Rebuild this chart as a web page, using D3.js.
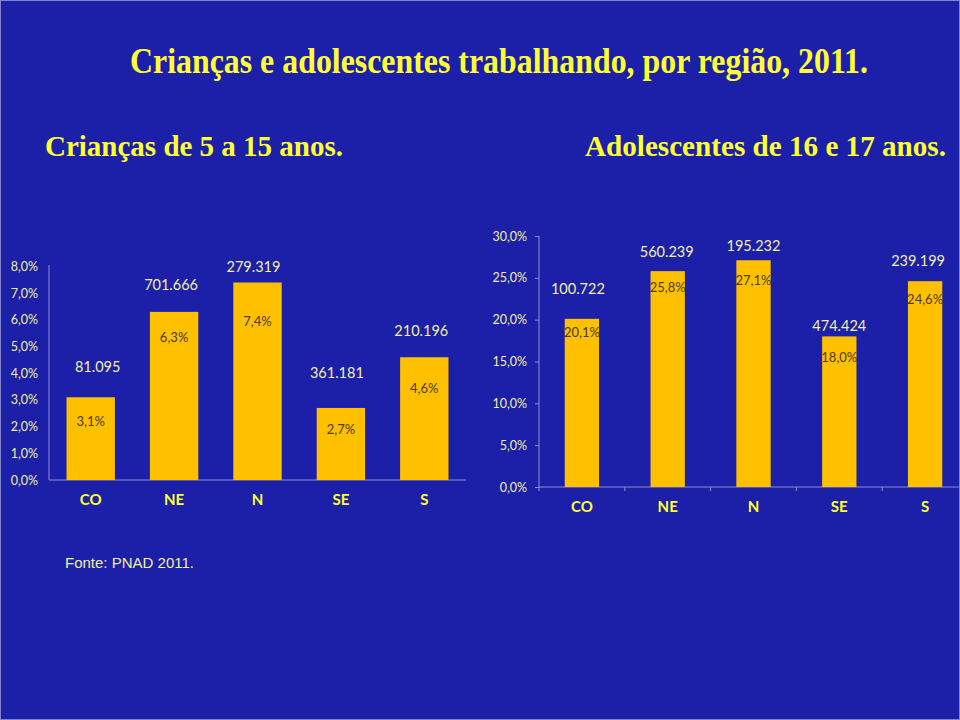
<!DOCTYPE html>
<html><head><meta charset="utf-8">
<script src="https://cdn.jsdelivr.net/npm/d3@7"></script>
<style>html,body{margin:0;padding:0;background:#1c1fa8;}svg{display:block;}</style>
</head><body>
<script>
// ---- data ----
const regions = ["CO", "NE", "N", "SE", "S"];
const childPct = [3.1, 6.3, 7.4, 2.7, 4.6];
const childCount = ["81.095", "701.666", "279.319", "361.181", "210.196"];
const teenPct = [20.1, 25.8, 27.1, 18.0, 24.6];
const teenCount = ["100.722", "560.239", "195.232", "474.424", "239.199"];
const childTicks = [0, 1, 2, 3, 4, 5, 6, 7, 8];
const teenTicks = [0, 5, 10, 15, 20, 25, 30];

// ---- layout (label nudges, px) ----
const childCountDy = [30, 27, 16, 35, 26], childCountDx = [7, -3, -4, -4, -3];
const childPctDy = [24, 26, 39, 22, 31];
const teenCountDy = [30, 19, 14, 10, 20], teenCountDx = [-4, -1, 0, 0, -7];
const teenPctDy = [14, 16, 20, 21, 18];

const W = 960, H = 720;
const BG = "#1c1fa8", BAR = "#ffc000", TXT = "#ffff33", LIGHT = "#f0f0a0", AXIS = "#8c8fd0";
const fmt = v => v.toFixed(1).replace(".", ",") + "%";

const svg = d3.select("body").append("svg").attr("width", W).attr("height", H);
svg.append("rect").attr("width", W).attr("height", H).attr("fill", BG);
svg.append("rect").attr("x", 0.5).attr("y", 0.5).attr("width", W - 1).attr("height", H - 1)
  .attr("fill", "none").attr("stroke", "#7f84cc").attr("stroke-width", 1);

function fitText(sel, x0, x1) {
  sel.attr("textLength", x1 - x0).attr("lengthAdjust", "spacingAndGlyphs").attr("x", x0);
}

const title = svg.append("text").attr("y", 73).attr("fill", TXT)
  .attr("font-family", "Liberation Serif, Times New Roman, serif").attr("font-weight", "bold")
  .attr("font-size", 35).text("Crianças e adolescentes trabalhando, por região, 2011.");
fitText(title, 130, 868);
const sub1 = svg.append("text").attr("y", 156).attr("fill", TXT)
  .attr("font-family", "Liberation Serif, Times New Roman, serif").attr("font-weight", "bold")
  .attr("font-size", 29).text("Crianças de 5 a 15 anos.");
fitText(sub1, 45, 343);
const sub2 = svg.append("text").attr("y", 156).attr("fill", TXT)
  .attr("font-family", "Liberation Serif, Times New Roman, serif").attr("font-weight", "bold")
  .attr("font-size", 29).text("Adolescentes de 16 e 17 anos.");
fitText(sub2, 585, 946);

svg.append("text").attr("x", 65).attr("y", 568).attr("fill", LIGHT)
  .attr("font-family", "Liberation Sans, Arial, sans-serif").attr("font-size", 15)
  .text("Fonte: PNAD 2011.");

function chart(o) {
  const g = svg.append("g");
  const x = d3.scaleBand().domain(regions).range([o.x0, o.x1]).paddingInner(o.pad).paddingOuter(o.pad / 2);
  const y = d3.scaleLinear().domain([0, o.max]).range([o.y0, o.y1]);

  // y axis
  const ya = d3.axisLeft(y).tickValues(o.ticks).tickFormat(fmt).tickSize(o.tick).tickPadding(o.tickPad);
  const gy = g.append("g").attr("transform", `translate(${o.x0},0)`).call(ya);
  gy.select(".domain").attr("stroke", AXIS).attr("d", `M0,${o.y0}V${o.yTop}`);
  gy.selectAll(".tick line").attr("stroke", AXIS);
  gy.selectAll(".tick text").attr("fill", LIGHT).attr("font-family", "Lato, Open Sans, sans-serif")
    .attr("font-size", 12.5);

  // x axis line + boundary ticks
  g.append("line").attr("x1", o.x0).attr("x2", o.x1).attr("y1", o.y0).attr("y2", o.y0).attr("stroke", AXIS);
  if (o.tick) {
    regions.forEach((r, i) => {
      const bx = o.x0 + i * x.step();
      g.append("line").attr("x1", bx).attr("x2", bx).attr("y1", o.y0).attr("y2", o.y0 + o.tick).attr("stroke", AXIS);
    });
  }

  // bars
  g.selectAll("rect.bar").data(o.vals).join("rect").attr("class", "bar")
    .attr("x", (d, i) => x(regions[i])).attr("width", x.bandwidth())
    .attr("y", d => y(d)).attr("height", d => o.y0 - y(d)).attr("fill", BAR);

  // count labels
  g.selectAll("text.cnt").data(o.vals).join("text").attr("class", "cnt")
    .attr("x", (d, i) => x(regions[i]) + x.bandwidth() / 2 + o.cdx[i])
    .attr("y", (d, i) => y(d) - o.cdy[i]).attr("dy", "0.35em")
    .attr("text-anchor", "middle").attr("fill", LIGHT)
    .attr("font-family", "Lato, Open Sans, sans-serif").attr("font-size", 14.5)
    .text((d, i) => o.counts[i]);

  // pct labels
  g.selectAll("text.pct").data(o.vals).join("text").attr("class", "pct")
    .attr("x", (d, i) => x(regions[i]) + x.bandwidth() / 2)
    .attr("y", (d, i) => y(d) + o.pdy[i]).attr("dy", "0.35em")
    .attr("text-anchor", "middle").attr("fill", "#4d3b12")
    .attr("font-family", "Lato, Open Sans, sans-serif").attr("font-size", 13)
    .text(d => fmt(d));

  // category labels
  g.selectAll("text.cat").data(regions).join("text").attr("class", "cat")
    .attr("x", d => x(d) + x.bandwidth() / 2).attr("y", o.catY).attr("dy", "0.35em")
    .attr("text-anchor", "middle").attr("fill", TXT)
    .attr("font-family", "Lato, Open Sans, sans-serif").attr("font-weight", "bold").attr("font-size", 15)
    .text(d => d);
}

chart({ x0: 49, x1: 466, y0: 480, y1: 266.5, yTop: 265, max: 8, ticks: childTicks, pad: 0.42,
  tick: 0, tickPad: 11, vals: childPct, counts: childCount, cdy: childCountDy, cdx: childCountDx,
  pdy: childPctDy, catY: 500 });
chart({ x0: 539, x1: 968, y0: 487, y1: 236, yTop: 236, max: 30, ticks: teenTicks, pad: 0.6,
  tick: 4, tickPad: 8, vals: teenPct, counts: teenCount, cdy: teenCountDy, cdx: teenCountDx,
  pdy: teenPctDy, catY: 507 });
</script>
</body></html>
